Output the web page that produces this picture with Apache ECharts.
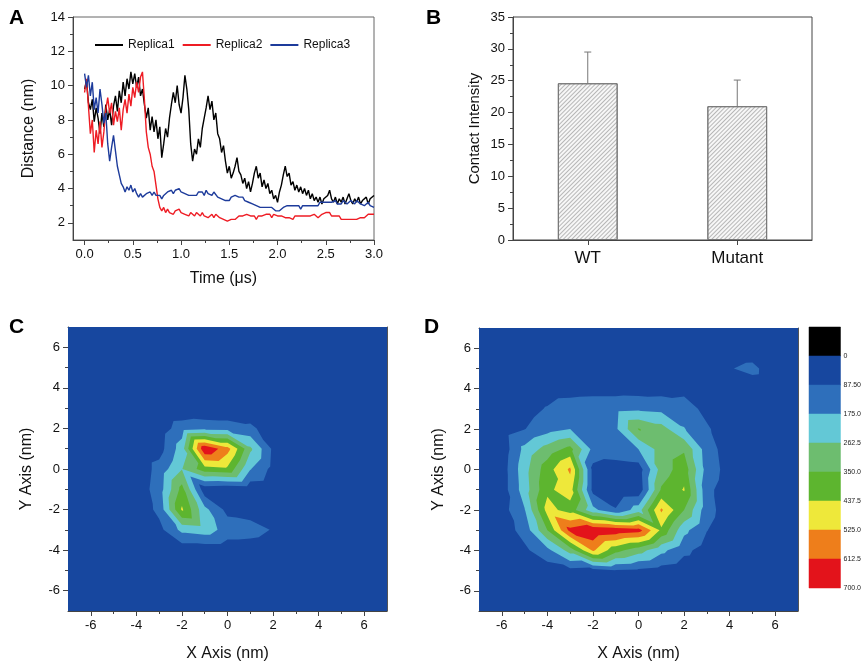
<!DOCTYPE html>
<html><head><meta charset="utf-8">
<script src="https://cdn.jsdelivr.net/npm/echarts@6/dist/echarts.min.js"></script>
<style>html,body{margin:0;padding:0;background:#fff}#main{width:864px;height:665px}</style>
</head><body><div id="main"></div>
<script>
// ---------- Panel A: distance vs time ----------
const time = [
0,0.02,0.04,0.06,0.08,0.1,0.12,0.14,0.16,0.18,
0.2,0.22,0.24,0.26,0.28,0.3,0.32,0.34,0.36,0.38,
0.4,0.42,0.44,0.46,0.48,0.5,0.52,0.54,0.56,0.58,
0.6,0.62,0.64,0.66,0.68,0.7,0.72,0.74,0.76,0.78,
0.8,0.82,0.84,0.86,0.88,0.9,0.92,0.94,0.96,0.98,
1.0,1.02,1.04,1.06,1.08,1.1,1.12,1.14,1.16,1.18,
1.2,1.22,1.24,1.26,1.28,1.3,1.32,1.34,1.36,1.38,
1.4,1.42,1.44,1.46,1.48,1.5,1.52,1.54,1.56,1.58,
1.6,1.62,1.64,1.66,1.68,1.7,1.72,1.74,1.76,1.78,
1.8,1.82,1.84,1.86,1.88,1.9,1.92,1.94,1.96,1.98,
2.0,2.02,2.04,2.06,2.08,2.1,2.12,2.14,2.16,2.18,
2.2,2.22,2.24,2.26,2.28,2.3,2.32,2.34,2.36,2.38,
2.4,2.42,2.44,2.46,2.48,2.5,2.52,2.54,2.56,2.58,
2.6,2.62,2.64,2.66,2.68,2.7,2.72,2.74,2.76,2.78,
2.8,2.82,2.84,2.86,2.88,2.9,2.92,2.94,2.96,2.98,
3.0];
const replica1 = [
9.8,10.3,9.0,8.6,9.2,7.9,8.7,8.1,7.2,8.4,
7.6,8.9,8.0,8.6,7.7,8.8,9.4,8.5,9.7,9.0,
10.2,9.4,10.4,9.8,10.8,10.1,10.7,9.9,10.5,9.4,
9.8,8.9,8.1,8.7,7.4,8.2,7.3,8.0,6.9,7.6,
5.8,6.6,7.5,7.0,8.1,8.9,9.6,9.0,10.0,8.9,
8.4,9.3,10.6,9.8,8.6,6.6,5.6,6.3,6.0,6.9,
6.4,7.5,8.1,8.7,9.4,8.6,9.1,8.0,8.4,7.2,
6.9,6.1,6.5,5.6,4.9,5.3,4.6,4.9,5.3,5.8,
5.0,4.8,4.3,4.6,4.0,4.4,3.8,4.3,4.9,5.3,
4.6,4.9,4.1,4.5,4.0,4.3,3.7,3.9,3.4,3.6,
3.2,3.8,4.2,4.8,5.3,4.7,4.9,4.2,4.4,3.9,
4.2,3.8,4.1,3.7,4.0,3.6,3.9,3.4,3.7,3.3,
3.5,3.2,3.5,3.1,3.4,3.3,3.6,3.9,3.4,3.2,
3.5,3.1,3.4,3.2,3.5,3.1,3.4,3.7,3.3,3.1,
3.4,3.2,3.5,3.1,3.3,3.2,3.5,3.1,3.4,3.3,
3.6];
const replica2 = [
9.6,10.4,8.8,7.2,8.0,6.1,7.4,6.6,7.9,6.4,
7.3,8.6,9.3,8.4,9.0,7.7,8.5,7.9,8.7,7.4,
8.6,9.2,8.4,9.5,8.8,9.9,9.3,10.2,9.6,10.5,
10.8,9.2,7.3,6.4,6.0,5.3,5.0,4.2,3.4,2.9,
2.7,2.9,2.6,2.8,2.6,2.7,2.5,2.7,2.6,2.8,
2.6,2.7,2.5,2.6,2.4,2.6,2.5,2.4,2.6,2.5,
2.4,2.6,2.4,2.5,2.3,2.4,2.5,2.3,2.5,2.4,
2.3,2.4,2.2,2.2,2.1,2.1,2.2,2.3,2.2,2.3,
2.4,2.3,2.4,2.3,2.5,2.6,2.4,2.3,2.4,2.2,
2.4,2.3,2.4,2.3,2.5,2.4,2.5,2.3,2.5,2.6,
2.4,2.5,2.4,2.5,2.3,2.4,2.3,2.4,2.2,2.4,
2.3,2.4,2.3,2.4,2.5,2.4,2.3,2.4,2.3,2.5,
2.4,2.3,2.4,2.5,2.4,2.6,2.5,2.6,2.4,2.5,
2.4,2.3,2.4,2.2,2.3,2.2,2.3,2.2,2.3,2.2,
2.3,2.2,2.3,2.3,2.4,2.3,2.4,2.5,2.6,2.5,
2.5];
const replica3 = [
10.7,9.9,10.6,9.4,10.2,8.6,9.3,8.4,9.8,8.9,
7.8,8.4,6.6,5.6,6.4,7.1,6.2,5.3,4.8,4.3,
4.1,3.8,4.1,3.9,4.2,3.8,4.0,3.7,3.5,3.7,
3.5,3.6,3.7,3.6,3.8,3.6,3.8,3.6,3.5,3.6,
3.4,3.6,3.7,3.8,3.7,3.9,3.7,3.9,3.8,4.0,
3.8,3.9,3.7,3.8,3.6,3.7,3.6,3.7,3.6,3.8,
3.7,3.8,3.6,3.9,3.7,3.8,3.6,3.8,3.7,3.5,
3.6,3.4,3.5,3.3,3.4,3.3,3.5,3.4,3.6,3.7,
3.5,3.4,3.5,3.3,3.4,3.2,3.3,3.1,3.2,3.0,
3.1,2.9,3.0,2.9,3.0,2.9,2.8,2.9,2.8,2.7,
2.8,2.7,2.8,2.9,2.8,3.0,2.9,3.0,2.9,3.0,
2.9,3.0,2.8,3.0,2.9,3.0,3.1,3.0,3.1,3.0,
3.1,3.0,3.2,3.1,3.2,3.1,3.2,3.1,3.2,3.1,
3.3,3.1,3.2,3.1,3.3,3.2,3.1,3.2,3.3,3.2,
3.1,3.3,3.2,3.1,3.2,3.0,3.1,3.2,3.0,3.1,
2.9];
const replicaNames = ['Replica1','Replica2','Replica3'];
const timeTicks = [0,0.5,1,1.5,2,2.5,3];
const timeMinorTicks = [0.25,0.75,1.25,1.75,2.25,2.75];
const distTicks = [2,4,6,8,10,12,14];
const distMinorTicks = [3,5,7,9,11,13];

// ---------- Panel B: contact intensity ----------
const groups = ['WT','Mutant'];
const contactMean = [24.6, 21.0];
const contactErr = [4.9, 4.1];

// ---------- Panels C, D: density maps (rows: y = 7 ... -7, cols: x = -7 ... 7) ----------
const gridX = [-7,-6,-5,-4,-3,-2,-1,0,1,2,3,4,5,6,7];
const gridY = [7,6,5,4,3,2,1,0,-1,-2,-3,-4,-5,-6,-7];
const densityC = [
[5,5,5,5,5,5,5,5,5,5,5,5,5,5,5],
[5,5,5,5,5,5,5,5,5,5,5,5,5,5,5],
[5,5,5,5,5,5,5,5,5,5,5,5,5,5,5],
[5,5,5,5,10,15,20,20,15,10,5,5,5,5,5],
[5,5,5,10,15,20,5,5,15,15,5,5,5,5,5],
[5,5,5,15,40,130,150,140,110,30,10,5,5,5,5],
[5,5,10,20,50,220,690,560,280,70,15,5,5,5,5],
[5,5,10,20,120,260,400,420,180,60,15,5,5,5,5],
[5,5,10,30,130,380,30,20,30,20,10,5,5,5,5],
[5,5,10,25,110,450,200,60,40,10,5,5,5,5,5],
[5,5,10,20,60,200,220,140,130,80,10,5,5,5,5],
[5,5,5,10,20,30,30,30,30,15,5,5,5,5,5],
[5,5,5,5,5,5,5,5,5,5,5,5,5,5,5],
[5,5,5,5,5,5,5,5,5,5,5,5,5,5,5],
[5,5,5,5,5,5,5,5,5,5,5,5,5,5,5]];
const densityD = [
[5,5,5,5,5,5,5,5,5,5,5,5,5,5,5],
[5,5,5,5,5,5,5,5,5,5,5,5,10,5,5],
[5,5,5,5,5,5,5,5,5,5,5,80,120,10,5],
[5,10,20,40,45,50,50,45,50,60,20,10,20,5,5],
[5,20,50,95,140,150,150,160,150,130,60,20,5,5,5],
[10,40,85,140,175,150,160,355,300,180,100,30,5,5,5],
[15,30,200,300,380,150,165,175,300,340,130,40,10,5,5],
[15,40,230,400,540,60,20,40,300,400,140,50,10,5,5],
[15,40,220,420,480,60,15,25,360,445,110,40,10,5,5],
[10,50,170,470,400,200,95,220,540,350,120,40,10,5,5],
[10,40,120,350,640,690,670,650,420,200,90,30,5,5,5],
[5,20,70,150,300,540,380,300,200,110,50,20,5,5,5],
[5,10,30,40,60,50,80,70,50,30,20,10,5,5,5],
[5,5,5,5,5,5,5,5,5,5,5,5,5,5,5],
[5,5,5,5,5,5,5,5,5,5,5,5,5,5,5]];
const mapTicks = [-6,-4,-2,0,2,4,6];
const mapMinorTicks = [-5,-3,-1,1,3,5];

// contour levels / colour scale
const contourLevels = [0,87.5,175,262.5,350,437.5,525,612.5];
const contourColors = ['#17479f','#2e6fbb','#63c8d6','#6dbd6f','#5db52f','#eee83a','#ee7e1b','#e3131b'];
const scaleEdges = [-87.5,0,87.5,175,262.5,350,437.5,525,612.5,700];
const scaleColors = ['#000000','#17479f','#2e6fbb','#63c8d6','#6dbd6f','#5db52f','#eee83a','#ee7e1b','#e3131b'];
const scaleLabels = ['0','87.50','175.0','262.5','350.0','437.5','525.0','612.5','700.0'];

const FONT = '"Liberation Sans", Arial, sans-serif';
const AX = '#444';

function clipPoly(poly, L) {
  const out = [];
  for (let k = 0; k < poly.length; k++) {
    const a = poly[k], b = poly[(k + 1) % poly.length];
    const ain = a.v >= L, bin = b.v >= L;
    if (ain) out.push(a);
    if (ain !== bin) {
      const t = (L - a.v) / (b.v - a.v);
      out.push({x: a.x + t * (b.x - a.x), y: a.y + t * (b.y - a.y), v: L});
    }
  }
  return out;
}

function contourSeries(xi, yi, values) {
  return {
    type: 'custom', xAxisIndex: xi, yAxisIndex: yi, clip: true, silent: true,
    data: contourLevels.map((lv, k) => [gridX[0], gridY[0], k]),
    encode: {x: 0, y: 1},
    renderItem: function (params, api) {
      const k = api.value(2);
      const L = contourLevels[k], col = contourColors[k];
      const P = (c, r) => { const p = api.coord([gridX[c], gridY[r]]); return {x: p[0], y: p[1], v: values[r][c]}; };
      let d = '';
      for (let r = 0; r < gridY.length - 1; r++) {
        for (let c = 0; c < gridX.length - 1; c++) {
          const tl = P(c, r), tr = P(c + 1, r), bl = P(c, r + 1), br = P(c + 1, r + 1);
          [[tl, tr, br], [tl, br, bl]].forEach(tri => {
            const poly = clipPoly(tri, L);
            if (poly.length >= 3) {
              d += 'M' + poly.map(p => p.x.toFixed(2) + ' ' + p.y.toFixed(2)).join('L') + 'Z';
            }
          });
        }
      }
      if (!d) return null;
      return {type: 'path', shape: {pathData: d}, style: {fill: col, stroke: null}};
    }
  };
}

function mainValAxis(gi, min, max, ticks, extra) {
  return Object.assign({
    gridIndex: gi, type: 'value', min, max,
    axisLine: {show: true, onZero: false, lineStyle: {color: AX, width: 1}},
    axisTick: {show: true, customValues: ticks, length: 5, lineStyle: {color: AX}},
    axisLabel: {customValues: ticks, color: '#111', fontSize: 13, fontFamily: FONT, margin: 8},
    splitLine: {show: false},
    nameLocation: 'middle',
    nameTextStyle: {fontSize: 16, color: '#111', fontFamily: FONT}
  }, extra || {});
}
function minorAxis(gi, min, max, ticks, pos) {
  return {gridIndex: gi, type: 'value', min, max, position: pos,
    axisLine: {show: false, onZero: false}, axisLabel: {show: false}, splitLine: {show: false},
    axisTick: {show: true, customValues: ticks, length: 3, lineStyle: {color: AX}}};
}
function frameAxis(gi, min, max, pos) {
  return {gridIndex: gi, type: 'value', min, max, position: pos,
    axisLine: {show: true, onZero: false, lineStyle: {color: '#555'}}, axisLabel: {show: false},
    axisTick: {show: false}, splitLine: {show: false}};
}

const chart = echarts.init(document.getElementById('main'), null, {renderer: 'canvas'});
const option = {
  animation: false,
  backgroundColor: '#fff',
  textStyle: {fontFamily: FONT},
  grid: [
    {left: 73, top: 17, width: 301, height: 223, show: true, borderColor: '#666', borderWidth: 1, backgroundColor: 'transparent'},
    {left: 513, top: 17, width: 299, height: 223, show: true, borderColor: '#444', borderWidth: 1, backgroundColor: 'transparent'},
    {left: 68, top: 327, width: 319, height: 284},
    {left: 479, top: 328, width: 319, height: 283},
    {left: 809, top: 327, width: 37, height: 261}
  ],
  legend: {
    data: replicaNames, left: 90, top: 34, icon: 'rect', itemWidth: 28, itemHeight: 2, itemGap: 8,
    textStyle: {fontSize: 12, color: '#111', fontFamily: FONT}
  },
  xAxis: [
    mainValAxis(0, -0.12, 3.0, timeTicks, {name: 'Time (μs)', nameGap: 31,
      axisLabel: {customValues: timeTicks, formatter: v => v.toFixed(1), color: '#111', fontSize: 13, fontFamily: FONT, margin: 8}}),
    minorAxis(0, -0.12, 3.0, timeMinorTicks, 'bottom'),
    {gridIndex: 1, type: 'category', data: groups,
      axisLine: {show: true, lineStyle: {color: AX}}, axisTick: {show: true, alignWithLabel: true, length: 5, lineStyle: {color: AX}},
      axisLabel: {fontSize: 17, color: '#111', fontFamily: FONT, margin: 10}},
    mainValAxis(2, -7, 7, mapTicks, {name: 'X Axis (nm)', nameGap: 35}),
    minorAxis(2, -7, 7, mapMinorTicks, 'bottom'),
    frameAxis(2, -7, 7, 'top'),
    mainValAxis(3, -7, 7, mapTicks, {name: 'X Axis (nm)', nameGap: 35}),
    minorAxis(3, -7, 7, mapMinorTicks, 'bottom'),
    frameAxis(3, -7, 7, 'top'),
    {gridIndex: 4, type: 'value', min: 0, max: 1, show: false}
  ],
  yAxis: [
    mainValAxis(0, 1, 14, distTicks, {name: 'Distance (nm)', nameGap: 36,
      axisLabel: {customValues: distTicks, color: '#111', fontSize: 13, fontFamily: FONT, margin: 8}}),
    minorAxis(0, 1, 14, distMinorTicks, 'left'),
    {gridIndex: 1, type: 'value', min: 0, max: 35, interval: 5,
      axisLine: {show: true, lineStyle: {color: AX}}, axisTick: {show: true, length: 5, lineStyle: {color: AX}},
      minorTick: {show: true, splitNumber: 2, length: 3, lineStyle: {color: AX}},
      axisLabel: {fontSize: 13, color: '#111', fontFamily: FONT, margin: 8}, splitLine: {show: false},
      name: 'Contact Intensity', nameLocation: 'middle', nameGap: 31,
      nameTextStyle: {fontSize: 15, color: '#111', fontFamily: FONT}},
    mainValAxis(2, -7, 7, mapTicks, {name: 'Y Axis (nm)', nameGap: 33}),
    minorAxis(2, -7, 7, mapMinorTicks, 'left'),
    frameAxis(2, -7, 7, 'right'),
    mainValAxis(3, -7, 7, mapTicks, {name: 'Y Axis (nm)', nameGap: 32}),
    minorAxis(3, -7, 7, mapMinorTicks, 'left'),
    frameAxis(3, -7, 7, 'right'),
    {gridIndex: 4, type: 'value', min: -87.5, max: 700, inverse: true, position: 'right',
      axisLine: {show: false}, axisTick: {show: false}, splitLine: {show: false},
      axisLabel: {customValues: scaleEdges.slice(1), formatter: v => scaleLabels[scaleEdges.indexOf(v) - 1],
        fontSize: 7, color: '#222', fontFamily: FONT, margin: 3}}
  ],
  series: [
    {name: replicaNames[0], type: 'line', xAxisIndex: 0, yAxisIndex: 0, symbol: 'none', data: time.map((t, i) => [t, replica1[i]]), lineStyle: {color: '#000000', width: 1.4}, itemStyle: {color: '#000000'}},
    {name: replicaNames[1], type: 'line', xAxisIndex: 0, yAxisIndex: 0, symbol: 'none', data: time.map((t, i) => [t, replica2[i]]), lineStyle: {color: '#ee1c24', width: 1.4}, itemStyle: {color: '#ee1c24'}},
    {name: replicaNames[2], type: 'line', xAxisIndex: 0, yAxisIndex: 0, symbol: 'none', data: time.map((t, i) => [t, replica3[i]]), lineStyle: {color: '#1d3b9b', width: 1.4}, itemStyle: {color: '#1d3b9b'}},
    {type: 'bar', xAxisIndex: 2, yAxisIndex: 2, data: contactMean, barWidth: '40%',
      itemStyle: {color: '#f7f7f7', borderColor: '#777', borderWidth: 1,
        decal: {symbol: 'rect', symbolSize: 1, dashArrayX: [1, 0], dashArrayY: [1, 2], rotation: -Math.PI / 4, color: 'rgba(120,120,120,0.5)'}}},
    {type: 'custom', xAxisIndex: 2, yAxisIndex: 2, silent: true, z: 5,
      data: groups.map((g, i) => [i, contactMean[i], contactMean[i] + contactErr[i]]),
      encode: {x: 0, y: [1, 2]},
      renderItem: function (params, api) {
        const base = api.coord([api.value(0), api.value(1)]);
        const top = api.coord([api.value(0), api.value(2)]);
        return {type: 'group', children: [
          {type: 'line', shape: {x1: base[0], y1: base[1], x2: top[0], y2: top[1]}, style: {stroke: '#777', lineWidth: 1}},
          {type: 'line', shape: {x1: top[0] - 3.5, y1: top[1], x2: top[0] + 3.5, y2: top[1]}, style: {stroke: '#777', lineWidth: 1}}
        ]};
      }},
    contourSeries(3, 3, densityC),
    contourSeries(6, 6, densityD),
    {type: 'custom', xAxisIndex: 9, yAxisIndex: 9, silent: true,
      data: scaleColors.map((c, i) => [0, scaleEdges[i], scaleEdges[i + 1], i]),
      encode: {x: 0, y: [1, 2]},
      renderItem: function (params, api) {
        const p1 = api.coord([0, api.value(1)]);
        const p2 = api.coord([1, api.value(2)]);
        const col = scaleColors[api.value(3)];
        return {type: 'rect', shape: {x: Math.min(p1[0], p2[0]), y: Math.min(p1[1], p2[1]), width: Math.abs(p2[0] - p1[0]), height: Math.abs(p2[1] - p1[1])},
          style: {fill: col, stroke: col, lineWidth: 0.5}};
      }}
  ],
  graphic: [
    {type: 'text', left: 9, top: 8, style: {text: 'A', font: 'bold 21px ' + FONT, fill: '#000'}},
    {type: 'text', left: 426, top: 8, style: {text: 'B', font: 'bold 21px ' + FONT, fill: '#000'}},
    {type: 'text', left: 9, top: 317, style: {text: 'C', font: 'bold 21px ' + FONT, fill: '#000'}},
    {type: 'text', left: 424, top: 317, style: {text: 'D', font: 'bold 21px ' + FONT, fill: '#000'}}
  ]
};
chart.setOption(option);
</script></body></html>
